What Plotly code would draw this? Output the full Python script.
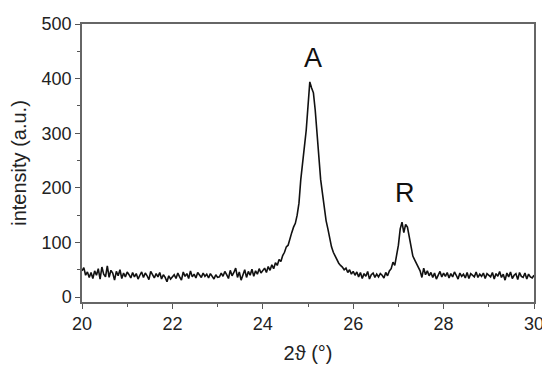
import numpy as np
import plotly.graph_objects as go

# 2-theta scan grid (degrees), 0.04 step from 20 to 30
two_theta = np.round(np.linspace(20.0, 30.0, 251), 2)

# intensity values (a.u.)
intensity = [
    # 20.00 - 21.00
    48, 54, 40, 46, 36, 45, 34, 48, 40, 52, 33, 55, 42, 37, 57, 36, 49, 44, 31, 47, 39, 50, 34, 44, 37, 46,
    # 21.04 - 22.00
    41, 35, 45, 37, 43, 33, 40, 46, 36, 44, 39, 32, 47, 40, 35, 43, 37, 45, 33, 41, 36, 28, 39, 33, 38,
    # 22.04 - 23.00
    41, 34, 44, 37, 31, 46, 38, 43, 34, 48, 37, 42, 35, 45, 40, 36, 44, 38, 42, 35, 43, 37, 33, 41, 36,
    # 23.04 - 24.00
    37, 44, 38, 47, 41, 34, 49, 39, 45, 53, 36, 46, 31, 42, 50, 36, 47, 40, 51, 38, 48, 42, 52, 44, 49,
    # 24.04 - 25.00
    53, 45, 56, 49, 59, 52, 63, 58, 69, 65, 76, 82, 92, 95, 108, 118, 128, 135, 150, 172, 215, 250, 275, 305, 355,
    # 25.04 - 26.00
    394, 383, 374, 342, 300, 250, 215, 190, 160, 140, 125, 108, 92, 82, 75, 68, 62, 58, 55, 50, 53, 45, 50, 42, 47,
    # 26.04 - 27.00
    40, 46, 37, 45, 34, 43, 38, 47, 33, 41, 44, 36, 42, 37, 43, 40, 35, 45, 39, 48, 52, 64, 58, 78, 95,
    # 27.04 - 28.00
    125, 137, 118, 133, 128, 112, 90, 75, 68, 62, 55, 48, 36, 53, 41, 48, 39, 45, 36, 44, 33, 42, 47, 37, 44,
    # 28.04 - 29.00
    38, 45, 35, 43, 37, 46, 40, 33, 44, 38, 42, 35, 45, 34, 43, 40, 37, 46, 36, 42, 38, 44, 34, 43, 39,
    # 29.04 - 30.00
    37, 45, 33, 43, 38, 47, 36, 42, 31, 44, 37, 46, 34, 40, 43, 32, 45, 38, 36, 44, 33, 42, 37, 35, 40,
]

peak_labels = ["A", "R"]
peak_label_x = [25.12, 27.15]
peak_label_y = [437, 190]

x_ticks = [20, 22, 24, 26, 28, 30]
y_ticks = [0, 100, 200, 300, 400, 500]

FONT = "Liberation Sans, Arial, sans-serif"

fig = go.Figure()
fig.add_trace(go.Scatter(
    x=two_theta, y=intensity, mode="lines",
    line=dict(color="#111111", width=1.6),
    showlegend=False, hoverinfo="skip",
))

for lab, lx, ly in zip(peak_labels, peak_label_x, peak_label_y):
    fig.add_annotation(x=lx, y=ly, text=lab, showarrow=False,
                       font=dict(family=FONT, size=27, color="#111111"))

axis_common = dict(
    showline=True, linecolor="#666666", linewidth=1.5, mirror=True,
    showgrid=False, zeroline=False, automargin=False,
    ticks="outside", ticklen=5, tickwidth=1.2, tickcolor="#555555",
    tickfont=dict(family=FONT, size=18, color="#222222"),
)

fig.update_xaxes(
    range=[20, 30], tickvals=x_ticks, ticktext=[str(v) for v in x_ticks],
    minor=dict(ticks="outside", ticklen=3, tickcolor="#555555", dtick=1, tick0=20),
    title=dict(text="2ϑ (°)", font=dict(family=FONT, size=20, color="#222222"), standoff=13),
    **axis_common,
)
fig.update_yaxes(
    range=[-9, 500], tickvals=y_ticks, ticktext=[str(v) for v in y_ticks],
    minor=dict(ticks="outside", ticklen=3, tickcolor="#555555", dtick=50, tick0=0),
    title=dict(text="intensity (a.u.)", font=dict(family=FONT, size=20, color="#222222"), standoff=12),
    **axis_common,
)

# the page body adds an 8px offset, so the figure is sized to fit the window
fig.update_layout(
    width=542, height=366,
    margin=dict(l=74, r=16, t=16, b=72),
    paper_bgcolor="white", plot_bgcolor="white",
)

fig.write_html("out.html")
